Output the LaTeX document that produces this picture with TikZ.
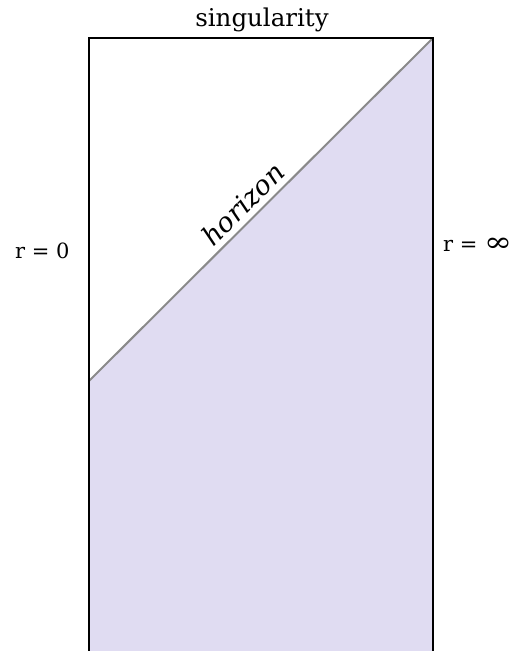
\documentclass[tikz,border=0pt]{standalone}
\usepackage{fontspec}
\usepackage{graphicx}
\setmainfont{DejaVu Serif}
\definecolor{lav}{HTML}{E0DCF2}
\definecolor{hor}{HTML}{8A8A8A}
\tikzset{lab/.style={font=\fontsize{21}{25}\selectfont, inner sep=0pt}}
\begin{document}
\begin{tikzpicture}[x=1pt,y=-1pt]
\useasboundingbox (0,0) rectangle (514,651);
\coordinate (bl) at (89,651);
\coordinate (tl) at (89,38);
\coordinate (tr) at (433,38);
\coordinate (br) at (433,651);
\coordinate (hl) at (89,381);
\fill[lav] (hl) -- (tr) -- (br) -- (bl) -- cycle;
\draw[hor, line width=2pt] (hl) -- (tr);
\draw[black, line width=1.8pt] (bl) -- (tl) -- (tr) -- (br);
\node[lab, font=\fontsize{24.5}{28}\selectfont, anchor=base] (sing) at (262,26) {singularity};
\node[lab, anchor=base west] (r0) at (15,258) {r = 0};
\node[lab, anchor=base west] (rinf) at (443,251) {r = \scalebox{1.6}[1.3]{∞}};
\node[lab, font=\fontsize{27}{30}\selectfont\itshape, rotate=45, anchor=base] (horizon) at (250,211) {horizon};
\end{tikzpicture}
\end{document}
